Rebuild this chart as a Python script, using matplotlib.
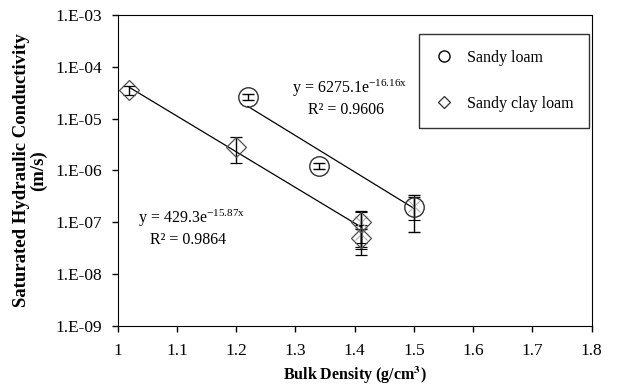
import matplotlib
matplotlib.use("Agg")
import matplotlib.pyplot as plt
import numpy as np
from matplotlib.lines import Line2D
from matplotlib.ticker import FixedLocator, FuncFormatter

plt.rcParams["font.family"] = ["Liberation Serif", "DejaVu Serif"]
plt.rcParams["mathtext.fontset"] = "stix"

# Sandy loam
sl_x = [1.22, 1.34, 1.50]
sl_k = [2.65e-5, 1.23e-6, 2.0e-7]
sl_err = [3.5e-6, 1.6e-7, 1.35e-7]

# Sandy clay loam
scl_x = [1.02, 1.20, 1.41, 1.41]
scl_k = [3.56e-5, 2.88e-6, 1.0e-7, 4.9e-8]
scl_err = [7.0e-6, 1.5e-6, 6.7e-8, 2.6e-8]

# extra grey replicate points
rep_x = [1.41, 1.41, 1.50]
rep_k = [1.0e-7, 6.0e-8, 2.1e-7]
rep_err = [6.0e-8, 3.0e-8, 1.0e-7]

# exponential fits  y = a * exp(b * x)
sl_fit = (6275.1, -16.16)
scl_fit = (429.3, -15.87)

yticks = [1e-9, 1e-8, 1e-7, 1e-6, 1e-5, 1e-4, 1e-3]
xticks = [1.0, 1.1, 1.2, 1.3, 1.4, 1.5, 1.6, 1.7, 1.8]

fig = plt.figure(figsize=(6.39, 3.89), dpi=100)
ax = fig.add_axes([0.184, 0.162, 0.742, 0.7995])

# trend lines
xs = np.linspace(min(sl_x), max(sl_x), 50)
ax.plot(xs, sl_fit[0] * np.exp(sl_fit[1] * xs), color="black", lw=0.9, zorder=2)
xs = np.linspace(min(scl_x), max(scl_x), 50)
ax.plot(xs, scl_fit[0] * np.exp(scl_fit[1] * xs), color="black", lw=0.9, zorder=2)

ax.errorbar(rep_x, rep_k, yerr=rep_err, fmt="x", color="#b0b0b0", ms=9, mew=0.8,
            ecolor="black", elinewidth=1, capsize=4, capthick=1, zorder=3)
ax.errorbar(sl_x, sl_k, yerr=sl_err, fmt="o", mfc="none", mec="#303030", ms=14,
            mew=1.0, ecolor="black", elinewidth=1, capsize=4, capthick=1, zorder=4)
ax.errorbar(scl_x, scl_k, yerr=scl_err, fmt="D", mfc="none", mec="#505050", ms=10,
            mew=0.9, ecolor="black", elinewidth=1, capsize=4, capthick=1, zorder=4)

ax.set_yscale("log")
ax.set_ylim(1e-9, 1e-3)
ax.set_xlim(1.0, 1.8)
ax.yaxis.set_major_locator(FixedLocator(yticks))
ax.yaxis.set_minor_locator(FixedLocator([]))
ax.yaxis.set_major_formatter(FuncFormatter(lambda v, p: "1.E-%02d" % round(-np.log10(v))))
ax.set_xticks(xticks)
ax.set_xticklabels(["1", "1.1", "1.2", "1.3", "1.4", "1.5", "1.6", "1.7", "1.8"])
ax.tick_params(labelsize=12.5, length=4, width=1, direction="out")
ax.tick_params(axis="y", pad=7)
ax.tick_params(axis="x", pad=8)

ax.set_xlabel("Bulk Density (g/cm$^\\mathbf{3}$)", fontsize=11.5, fontweight="bold", labelpad=4)
ax.set_ylabel("Saturated Hydraulic Conductivity\n(m/s)", fontsize=13.5, fontweight="bold",
              labelpad=6, linespacing=1.0)

ax.text(1.294, 3.9e-5, "y = 6275.1e$^{\\mathregular{-16.16x}}$", fontsize=11.5, ha="left", va="center")
ax.text(1.321, 1.47e-5, "R² = 0.9606", fontsize=11.5, ha="left", va="center")
ax.text(1.035, 1.2e-7, "y = 429.3e$^{\\mathregular{-15.87x}}$", fontsize=11.5, ha="left", va="center")
ax.text(1.0545, 4.5e-8, "R² = 0.9864", fontsize=11.5, ha="left", va="center")

handles = [
    Line2D([], [], ls="none", marker="o", mfc="none", mec="black", ms=8, mew=1.0),
    Line2D([], [], ls="none", marker="D", mfc="none", mec="#303030", ms=6.5, mew=0.9),
]
leg = ax.legend(handles, ["Sandy loam", "Sandy clay loam"], loc="upper right",
                bbox_to_anchor=(0.995, 0.94), fontsize=11.5, frameon=True,
                fancybox=False, edgecolor="black", labelspacing=1.9, borderpad=1.0,
                handlelength=1.2, handletextpad=0.8, borderaxespad=0)
leg.get_frame().set_linewidth(1)

fig.savefig("out.png", dpi=100)
